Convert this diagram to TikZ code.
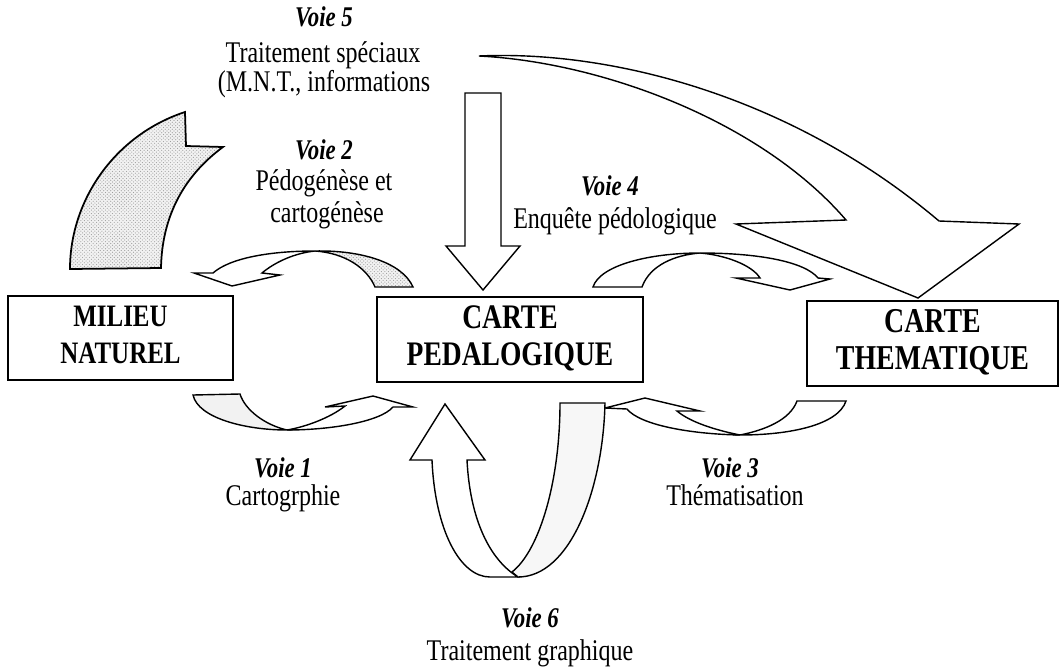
\documentclass[tikz,border=0pt]{standalone}
\usepackage{fontspec}
\setmainfont{Liberation Serif}
\usetikzlibrary{patterns}
\newcommand{\tall}[1]{\scalebox{1}[1.25]{#1}}
\tikzset{
  outl/.style={draw=black, line width=1.2pt, line join=miter},
  wfill/.style={outl, fill=white},
  lfill/.style={outl, fill=gray!10},
  stip/.style={outl, preaction={fill=gray!10}, pattern=crosshatch dots, pattern color=gray!75},
  boxa/.style={draw, line width=1.5pt, align=center, inner sep=0pt},
  voie/.style={font=\fontsize{19.5}{22}\selectfont\bfseries\itshape, anchor=base, inner sep=0pt},
  lbl/.style={font=\fontsize{20.5}{24}\selectfont, anchor=base, inner sep=0pt},
}
\begin{document}
\begin{tikzpicture}[x=0.03cm, y=-0.03cm]
\useasboundingbox (0,0) rectangle (1064,667);

% boxes
\node[boxa, minimum width=6.75cm, minimum height=2.52cm,
      font=\fontsize{21.3}{25.3}\selectfont\bfseries] (milieu) at (120.5,338)
      {\tall{\begin{tabular}{@{}c@{}}MILIEU\\NATUREL\end{tabular}}};
\node[boxa, minimum width=7.98cm, minimum height=2.55cm,
      font=\fontsize{23.5}{25.3}\selectfont\bfseries] (ped) at (510,339.5)
      {\tall{\begin{tabular}{@{}c@{}}CARTE\\PEDALOGIQUE\end{tabular}}};
\node[boxa, minimum width=7.53cm, minimum height=2.55cm,
      font=\fontsize{23.8}{25.3}\selectfont\bfseries] (them) at (932.5,343.5)
      {\tall{\begin{tabular}{@{}c@{}}CARTE\\THEMATIQUE\end{tabular}}};

% big stippled arrow top-left
\draw[stip, line width=1.5pt] (70,269) .. controls (70,200) and (115,135) .. (185,112) -- (186,146) -- (223,147)
   .. controls (185,175) and (162,215) .. (161,268) -- cycle;

% Voie 2 arrow (from CARTE PEDALOGIQUE to MILIEU NATUREL, over the top)
\coordinate (v2top) at (315,251);
\draw[stip] (v2top) .. controls (360,250) and (402,262) .. (413,287) -- (375,287)
   .. controls (367,268) and (345,253) .. (v2top);
\draw[wfill] (v2top) .. controls (270,251) and (230,258) .. (213,273) -- (194,273) -- (232,286)
   -- (280,275) -- (262,273) .. controls (275,262) and (295,253) .. (v2top);

% Voie 1 arrow (from MILIEU NATUREL to CARTE PEDALOGIQUE, below)
\coordinate (v1bot) at (287,430);
\draw[lfill] (193,395) .. controls (198,418) and (245,430) .. (v1bot)
   .. controls (265,425) and (245,410) .. (240,394) -- cycle;
\draw[wfill] (v1bot) .. controls (330,430) and (380,422) .. (393,407) -- (413,407) -- (373,396)
   -- (325,407) -- (345,406) .. controls (330,418) and (305,427) .. (v1bot);

% Voie 3 arrow (from CARTE THEMATIQUE to CARTE PEDALOGIQUE, below)
\coordinate (v3bot) at (740,435);
\draw[wfill] (846,401) .. controls (838,425) and (790,435) .. (v3bot)
   .. controls (765,430) and (790,420) .. (797,401) -- cycle;
\draw[wfill] (v3bot) .. controls (690,434) and (640,425) .. (627,409) -- (605,408) -- (645,398)
   -- (700,411) -- (677,411) .. controls (690,422) and (715,430) .. (v3bot);

% Voie 4 arrow (from CARTE PEDALOGIQUE to CARTE THEMATIQUE, over the top)
\coordinate (v4top) at (700,253);
\draw[wfill] (593,287) .. controls (600,265) and (650,253) .. (v4top)
   .. controls (675,255) and (650,265) .. (642,287) -- cycle;
\draw[wfill] (v4top) .. controls (760,253) and (805,262) .. (818,278) -- (830,279) -- (790,290)
   -- (736,278) -- (760,278) .. controls (752,265) and (725,255) .. (v4top);

% Voie 5 straight arrow down
\draw[wfill] (465,93) -- (501,93) -- (501,246) -- (520,246) -- (483,290) -- (446,246) -- (465,246) -- cycle;

% Voie 5 big curved arrow to CARTE THEMATIQUE
\coordinate (v5tail) at (479,56);
\draw[wfill] (v5tail) .. controls (610,50) and (790,95) .. (939,221) -- (1019,224) -- (918,298)
   -- (736,224) -- (846,220) .. controls (760,120) and (600,62) .. (v5tail);

% Voie 6 arrow (below CARTE PEDALOGIQUE)
\draw[wfill] (432,460) .. controls (435,530) and (460,577) .. (490,577) -- (518,577)
   .. controls (490,560) and (470,520) .. (467,460) -- (485,460) -- (445,404) -- (410,460) -- cycle;
\draw[outl, fill=gray!6] (518,577) .. controls (570,577) and (603,490) .. (605,403) -- (560,403)
   .. controls (560,480) and (540,550) .. (512,572) -- cycle;

% labels
\node[voie] (v5) at (324,26) {\tall{Voie 5}};
\node[lbl] (v5a) at (323,62) {\tall{Traitement spéciaux}};
\node[lbl] (v5b) at (324,91) {\tall{(M.N.T., informations}};

\node[voie] (v2) at (324,159) {\tall{Voie 2}};
\node[lbl] (v2a) at (324,190) {\tall{Pédogénèse et}};
\node[lbl] (v2b) at (327,222) {\tall{cartogénèse}};

\node[voie] (v4) at (610,195) {\tall{Voie 4}};
\node[lbl] (v4a) at (615,228) {\tall{Enquête pédologique}};

\node[voie] (v1) at (283,477) {\tall{Voie 1}};
\node[lbl] (v1a) at (283,505) {\tall{Cartogrphie}};

\node[voie] (v3) at (730,477) {\tall{Voie 3}};
\node[lbl] (v3a) at (735,505) {\tall{Thématisation}};

\node[voie] (v6) at (530,627) {\tall{Voie 6}};
\node[lbl] (v6a) at (530,660) {\tall{Traitement graphique}};
\end{tikzpicture}
\end{document}
